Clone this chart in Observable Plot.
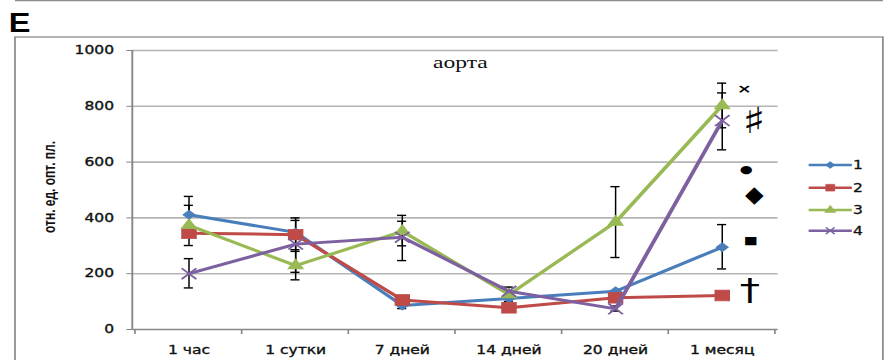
<!DOCTYPE html>
<html>
<head>
<meta charset="utf-8">
<script src="https://cdn.jsdelivr.net/npm/d3@7"></script>
<script src="https://cdn.jsdelivr.net/npm/@observablehq/plot@0.6"></script>
<style>
  html, body { margin: 0; padding: 0; background: #fff; overflow: hidden; }
  #chart { width: 888px; height: 360px; overflow: hidden; }
  /* the figure is laid out narrow and widened as a whole */
  #chart svg { display: block; transform: scaleX(1.35); transform-origin: 0 0; }
  #chart svg g[aria-label="x-axis tick label"] text,
  #chart svg g[aria-label="y-axis tick label"] text { stroke: #111; stroke-width: 0.35px; }
</style>
</head>
<body>
<div id="chart"></div>
<script>
// Time points after exposure
const periods = ["1 час", "1 сутки", "7 дней", "14 дней", "20 дней", "1 месяц"];
const seriesNames = ["1", "2", "3", "4"];
const seriesColors = ["#4a7ebb", "#be4b48", "#98b954", "#7d60a0"];

// Mean values, отн. ед. опт. пл.
const values1 = [411, 348, 86, 111, 137, 295];
const values2 = [345, 340, 106, 78, 114, 122];
const values3 = [373, 229, 352, 125, 385, 803];
const values4 = [200, 306, 331, 137, 74, 749];

// Error bar bounds (null = no bar shown)
const errLow1  = [345, 286, 75, null, null, 217];
const errHigh1 = [477, 400, 97, null, null, 376];
const errLow2  = [null, null, null, null, null, null];
const errHigh2 = [null, null, null, null, null, null];
const errLow3  = [301, 178, 300, 100, 258, 723];
const errHigh3 = [445, 280, 409, 152, 512, 883];
const errLow4  = [149, 205, 247, null, 66, 644];
const errHigh4 = [254, 391, 388, null, 84, 848];

// Significance marks beside the last time point
const markSymbols = ["×", "♯", "●", "◆", "■", "†"];
const markValues  = [864, 749, 573, 486, 319, 142];

const yTicks = [0, 200, 400, 600, 800, 1000];

const allValues = [values1, values2, values3, values4];
const allLow = [errLow1, errLow2, errLow3, errLow4];
const allHigh = [errHigh1, errHigh2, errHigh3, errHigh4];

const points = seriesNames.flatMap((s, i) =>
  periods.map((p, j) => ({period: p, series: s, value: allValues[i][j]})));
const errors = seriesNames.flatMap((s, i) =>
  periods.map((p, j) => ({period: p, series: s, low: allLow[i][j], high: allHigh[i][j]})))
  .filter(d => d.low != null && d.high != null);
const notes = markSymbols.map((t, i) => ({period: periods[periods.length - 1], symbol: t, value: markValues[i]}));

const W = 658;
const H = 360;
const mLeft = 98, mRight = 82, mTop = 50, mBottom = 31;
const bandW = (W - mLeft - mRight) / periods.length;
const capInset = (bandW - 7.4) / 2;

const symbolOf = {"1": "diamond2", "2": "square", "3": "triangle", "4": "times"};
const dotR = {"1": 4, "2": 6, "3": 4.2, "4": 5};

const tickFont = "'DejaVu Sans', Verdana, sans-serif";

const seriesMarks = seriesNames.flatMap((s, i) => {
  const data = points.filter(d => d.series === s);
  const filled = s !== "4";
  return [
    Plot.line(data, {x: "period", y: "value", stroke: seriesColors[i], strokeWidth: 3, strokeLinejoin: "round"}),
    Plot.dot(data, {
      x: "period", y: "value", r: dotR[s], symbol: () => symbolOf[s],
      fill: filled ? seriesColors[i] : "none",
      stroke: seriesColors[i], strokeWidth: filled ? 0.8 : 1.6
    })
  ];
});

const chart = Plot.plot({
  width: W,
  height: H,
  marginLeft: mLeft,
  marginRight: mRight,
  marginTop: mTop,
  marginBottom: mBottom,
  style: {fontFamily: tickFont, background: "transparent", overflow: "visible"},
  x: {type: "band", domain: periods, padding: 0, label: null},
  y: {domain: [0, 1000], label: null},
  symbol: {type: "identity"},
  marks: [
    Plot.gridY(yTicks.filter(t => t > 0), {stroke: "#b4b4b4", strokeOpacity: 1, strokeWidth: 1.6}),
    Plot.ruleY([0], {stroke: "#868686", strokeWidth: 1.4}),
    Plot.axisY(yTicks, {
      tickSize: 4.4, tickPadding: 9.6, stroke: "#868686", strokeWidth: 1,
      tickFormat: d3.format("d"),
      fontSize: 11.5, fontWeight: "normal", fill: "#111", label: null
    }),
    Plot.axisX({
      tickSize: 0, tickPadding: 16, fontSize: 11.5, fontWeight: "normal", fill: "#111", label: null
    }),
    Plot.ruleX(errors, {x: "period", y1: "low", y2: "high", stroke: "#000", strokeWidth: 1.1}),
    Plot.tickY(errors, {x: "period", y: "low", stroke: "#000", strokeWidth: 1.4, insetLeft: capInset, insetRight: capInset}),
    Plot.tickY(errors, {x: "period", y: "high", stroke: "#000", strokeWidth: 1.4, insetLeft: capInset, insetRight: capInset}),
    ...seriesMarks,
    Plot.text(["аорта"], {
      frameAnchor: "top", dx: 340.5 - (mLeft + (W - mLeft - mRight) / 2), dy: 5,
      fontFamily: "'Liberation Serif', 'Times New Roman', serif", fontSize: 17.5, fill: "#111"
    }),
    Plot.text(notes, {
      x: "period", y: "value", text: "symbol",
      fontFamily: "'DejaVu Sans', sans-serif", fill: "#000"
    })
  ]
});

document.getElementById("chart").append(chart);

// Per-glyph offsets, sizes and widths of the significance marks
const noteDx = [16.3, 23.7, 17.8, 23.7, 21.1, 20.4];
const noteSize = [13, 36, 11, 23, 11, 30];
const noteWidth = [1, 1, 1, 0.78, 1, 1];
const noteWeight = ["bold", "normal", "normal", "normal", "normal", "normal"];
const svg = d3.select(chart);
const xs = chart.scale("x");
const ys = chart.scale("y");
const bw = xs.bandwidth;

// Y axis line and category boundary ticks
svg.append("line")
  .attr("x1", mLeft).attr("x2", mLeft)
  .attr("y1", ys.apply(1000)).attr("y2", ys.apply(0))
  .attr("stroke", "#868686").attr("stroke-width", 1.4);
const bounds = periods.map(p => xs.apply(p)).concat([xs.apply(periods[periods.length - 1]) + bw]);
svg.append("g").selectAll("line").data(bounds).join("line")
  .attr("x1", d => d).attr("x2", d => d)
  .attr("y1", ys.apply(0)).attr("y2", ys.apply(0) + 5)
  .attr("stroke", "#868686").attr("stroke-width", 1.2);

// Annotation glyphs: resize / shift each text created by the text mark
// (the mark's group already carries the half-band offset)
svg.selectAll("text").filter(function() { return markSymbols.includes(this.textContent); })
  .each(function() {
    const i = markSymbols.indexOf(this.textContent);
    const cx = xs.apply(periods[periods.length - 1]) + noteDx[i];
    const cy = ys.apply(markValues[i]);
    d3.select(this)
      .attr("transform", `translate(${cx},${cy}) scale(${noteWidth[i]},1)`)
      .attr("x", null).attr("y", null)
      .attr("dy", "0.35em")
      .attr("text-anchor", "middle")
      .style("font-size", noteSize[i] + "px")
      .style("font-weight", noteWeight[i]);
  });

// Panel border and neighbouring panel edge
svg.append("rect")
  .attr("x", 11.1).attr("y", 37).attr("width", 654 - 11.1).attr("height", 340)
  .attr("fill", "none").attr("stroke", "#8c8c8c").attr("stroke-width", 1.3);
svg.append("line")
  .attr("x1", 11.1).attr("x2", 654).attr("y1", 0.7).attr("y2", 0.7)
  .attr("stroke", "#8c8c8c").attr("stroke-width", 1.3);

// Panel letter
svg.append("text")
  .attr("transform", "translate(14.5,32) scale(0.86,1)")
  .attr("font-family", "'Liberation Sans', Arial, sans-serif")
  .attr("font-weight", "bold").attr("font-size", 28).attr("fill", "#000")
  .text("E");

// Y axis title
svg.append("text")
  .attr("transform", "translate(40.8,187) rotate(-90)")
  .attr("text-anchor", "middle")
  .attr("font-family", "'Liberation Sans Narrow', 'Liberation Sans', Arial, sans-serif")
  .attr("font-weight", "bold").attr("font-size", 12).attr("fill", "#111")
  .text("отн. ед. опт. пл.");

// Legend
const legendY = [165, 187.7, 210, 230.7];
const lg = svg.append("g");
seriesNames.forEach((s, i) => {
  const g = lg.append("g").attr("transform", `translate(0,${legendY[i]})`);
  g.append("line").attr("x1", 599).attr("x2", 631).attr("y1", 0).attr("y2", 0)
    .attr("stroke", seriesColors[i]).attr("stroke-width", 2.6);
  const sym = {"1": d3.symbolDiamond2, "2": d3.symbolSquare, "3": d3.symbolTriangle, "4": d3.symbolTimes}[s];
  const size = {"1": 30, "2": 45, "3": 30, "4": 30}[s];
  g.append("path").attr("transform", "translate(615,0)")
    .attr("d", d3.symbol(sym, size)())
    .attr("fill", s === "4" ? "none" : seriesColors[i])
    .attr("stroke", seriesColors[i]).attr("stroke-width", s === "4" ? 1.3 : 0.5);
  g.append("text").attr("x", 635.6).attr("y", 0).attr("dy", "0.36em")
    .attr("font-family", tickFont).attr("font-size", 11.5).attr("fill", "#111")
    .attr("stroke", "#111").attr("stroke-width", 0.3)
    .text(s);
});
</script>
</body>
</html>
